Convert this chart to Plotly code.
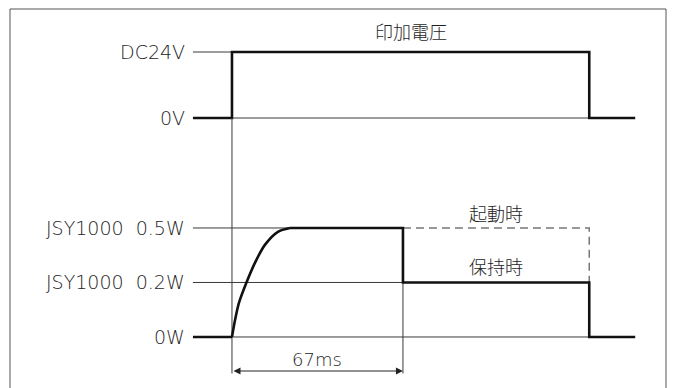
import plotly.graph_objects as go

# ---------------- data (time in ms) ----------------
t_label = -15.3      # where the level reference lines begin
t_on = 0             # voltage applied
t_hold = 67          # switch from start-up to holding power
t_off = 140          # voltage removed
t_end = 158          # end of trace

volt_values = [0, 24]
volt_labels = ["0V", "DC24V"]

power_levels = [0, 1, 2]          # schematic levels: 0W, 0.2W, 0.5W
power_labels = ["0W", "JSY1000\u00a0\u00a00.2W", "JSY1000\u00a0\u00a00.5W"]

# rising power curve (ms, level)
rise_t = [0, 1.2, 2.7, 5.6, 9.0, 12.9, 18.0, 22.7]
rise_level = [0, 0.31, 0.62, 0.99, 1.36, 1.69, 1.93, 2.0]

dim_label = "67ms"
title_volt = "印加電圧"
label_start = "起動時"
label_hold = "保持時"

# ---------------- layout constants ----------------
X_RANGE = [-90.9, 173.6]
V_RANGE = [-98.18, 42.91]
P_RANGE = [-0.936, 6.183]
DIM_LEVEL = -0.624
EXT_LEVEL = -0.67

THICK = dict(color="#111111", width=2.6)
THIN = dict(color="#3a3a3a", width=1)
LATIN = "DejaVu Sans"
CJK = "Noto Sans CJK JP"
TXT = "#1e1e1e"


def v_to_p(v):
    f = (v - V_RANGE[0]) / (V_RANGE[1] - V_RANGE[0])
    return P_RANGE[0] + f * (P_RANGE[1] - P_RANGE[0])


v_lo, v_hi = volt_values
p0, p1, p2 = power_levels

fig = go.Figure()

# thin reference lines (voltage)
fig.add_trace(go.Scatter(x=[t_label, t_on, None, t_on, t_off],
                         y=[v_hi, v_hi, None, v_lo, v_lo],
                         mode="lines", line=THIN, yaxis="y", hoverinfo="skip"))
# thin reference lines (power)
fig.add_trace(go.Scatter(x=[t_label, rise_t[-1], None, t_label, t_hold, None, t_on, t_off],
                         y=[p2, p2, None, p1, p1, None, p0, p0],
                         mode="lines", line=THIN, yaxis="y2", hoverinfo="skip"))
# extension lines for dimension
fig.add_trace(go.Scatter(x=[t_on, t_on, None, t_hold, t_hold],
                         y=[v_to_p(v_lo), EXT_LEVEL, None, p2, EXT_LEVEL],
                         mode="lines", line=THIN, yaxis="y2", hoverinfo="skip"))
# dashed start-up continuation
fig.add_trace(go.Scatter(x=[t_hold, t_off, t_off], y=[p2, p2, p1],
                         mode="lines", line=dict(color="#777777", width=1.5, dash="8px,5px"),
                         yaxis="y2", hoverinfo="skip"))
# voltage waveform
fig.add_trace(go.Scatter(x=[t_label, t_on, t_on, t_off, t_off, t_end],
                         y=[v_lo, v_lo, v_hi, v_hi, v_lo, v_lo],
                         mode="lines", line=THICK, yaxis="y", hoverinfo="skip"))
# power waveform
fig.add_trace(go.Scatter(x=[t_label, t_on], y=[p0, p0],
                         mode="lines", line=THICK, yaxis="y2", hoverinfo="skip"))
fig.add_trace(go.Scatter(x=rise_t, y=rise_level, mode="lines",
                         line=dict(color="#111111", width=2.6, shape="spline", smoothing=0.8),
                         yaxis="y2", hoverinfo="skip"))
fig.add_trace(go.Scatter(x=[rise_t[-1], t_hold, t_hold, t_off, t_off, t_end],
                         y=[p2, p2, p1, p1, p0, p0],
                         mode="lines", line=THICK, yaxis="y2", hoverinfo="skip"))

LFONT = dict(family=LATIN, size=19, color=TXT, weight=300)
CFONT = dict(family=CJK, size=18, color=TXT, weight=300)

ann = []
for v, lab in zip(volt_values, volt_labels):
    ann.append(dict(x=t_label, y=v, xref="x", yref="y", text=lab, showarrow=False,
                    xanchor="right", yanchor="middle", xshift=-6, font=LFONT))
for p, lab in zip(power_levels, power_labels):
    ann.append(dict(x=t_label, y=p, xref="x", yref="y2", text=lab, showarrow=False,
                    xanchor="right", yanchor="middle", xshift=-6, font=LFONT))
ann.append(dict(x=(t_on + t_off) / 2, y=v_hi, xref="x", yref="y", text=title_volt,
                showarrow=False, yshift=21, xanchor="center", yanchor="middle", font=CFONT))
ann.append(dict(x=(t_hold + t_off) / 2, y=p2, xref="x", yref="y2", text=label_start,
                showarrow=False, yshift=15, xanchor="center", yanchor="middle", font=CFONT))
ann.append(dict(x=(t_hold + t_off) / 2, y=p1, xref="x", yref="y2", text=label_hold,
                showarrow=False, yshift=16, xanchor="center", yanchor="middle", font=CFONT))
ann.append(dict(x=(t_on + t_hold) / 2, y=DIM_LEVEL, xref="x", yref="y2", text=dim_label,
                showarrow=False, yshift=12, xanchor="center", yanchor="middle",
                font=dict(family=LATIN, size=18, color=TXT, weight=300)))
ann.append(dict(x=t_hold, y=DIM_LEVEL, xref="x", yref="y2",
                ax=t_on, ay=DIM_LEVEL, axref="x", ayref="y2", text="",
                showarrow=True, arrowhead=2, arrowside="end+start",
                arrowsize=1.4, arrowwidth=1, arrowcolor="#222222",
                standoff=0, startstandoff=0))

fig.update_layout(
    width=675, height=388,
    margin=dict(l=0, r=0, t=0, b=0),
    paper_bgcolor="white", plot_bgcolor="white",
    showlegend=False,
    xaxis=dict(range=X_RANGE, visible=False, fixedrange=True),
    yaxis=dict(range=V_RANGE, visible=False, fixedrange=True),
    yaxis2=dict(range=P_RANGE, visible=False, overlaying="y", fixedrange=True),
    annotations=ann,
    shapes=[dict(type="rect", xref="paper", yref="paper",
                 x0=10 / 675, x1=666 / 675, y0=-0.02, y1=1 - 9 / 388,
                 line=dict(color="#555555", width=1), fillcolor="rgba(0,0,0,0)", layer="below")],
)

fig.write_html("out.html", config={"displayModeBar": False, "staticPlot": True},
               post_script="document.body.style.margin='0';")
